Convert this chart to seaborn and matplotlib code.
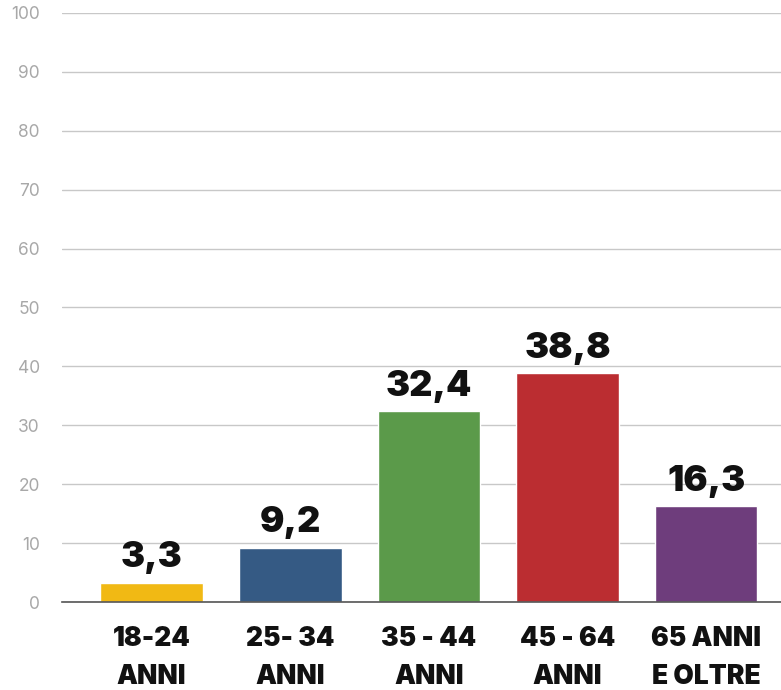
import matplotlib
matplotlib.use("Agg")
import matplotlib.pyplot as plt
import seaborn as sns
import pandas as pd

categories = ["18-24\nANNI", "25- 34\nANNI", "35 - 44\nANNI", "45 - 64\nANNI", "65 ANNI\nE OLTRE"]
values = [3.3, 9.2, 32.4, 38.8, 16.3]
value_labels = ["3,3", "9,2", "32,4", "38,8", "16,3"]
colors = ["#F1B914", "#355A84", "#5B9A4A", "#BB2D31", "#6E3D7C"]
yticks = [0, 10, 20, 30, 40, 50, 60, 70, 80, 90, 100]

sns.set_theme(style="white")
plt.rcParams["font.family"] = ["Inter", "DejaVu Sans"]

df = pd.DataFrame({"fascia": categories, "valore": values})

fig = plt.figure(figsize=(7.81, 6.90), dpi=100)
ax = fig.add_axes([0.0794, 0.1275, 0.9206, 0.8537])

sns.barplot(data=df, x="fascia", y="valore", hue="fascia", palette=colors,
            legend=False, width=0.74, saturation=1, ax=ax, zorder=3)

ax.set_ylim(0, 100)
ax.set_xlim(-0.646, 4.54)
ax.set_yticks(yticks)
ax.set_yticklabels([str(t) for t in yticks])
ax.yaxis.grid(True, color="#C8C8C8", linewidth=1, zorder=0)
ax.xaxis.grid(False)
for s in ["top", "right", "left"]:
    ax.spines[s].set_visible(False)
ax.spines["bottom"].set_color("#555555")
ax.spines["bottom"].set_linewidth(1.2)
ax.spines["bottom"].set_zorder(4)

ax.tick_params(axis="y", length=0, pad=16, labelsize=12.5, labelcolor="#A8A8A8")
ax.tick_params(axis="x", length=0, pad=17)
for lbl in ax.get_xticklabels():
    lbl.set_fontsize(19)
    lbl.set_fontweight("black")
    lbl.set_color("#111111")
    lbl.set_linespacing(1.6)
    lbl.set_verticalalignment("top")

ax.set_xlabel("")
ax.set_ylabel("")

for i, (v, t) in enumerate(zip(values, value_labels)):
    ax.annotate(t, (i, v), xytext=(0, 6), textcoords="offset points",
                ha="center", va="bottom", fontsize=26, fontweight="black",
                color="#111111", zorder=5)

fig.savefig("out.png", dpi=100)
